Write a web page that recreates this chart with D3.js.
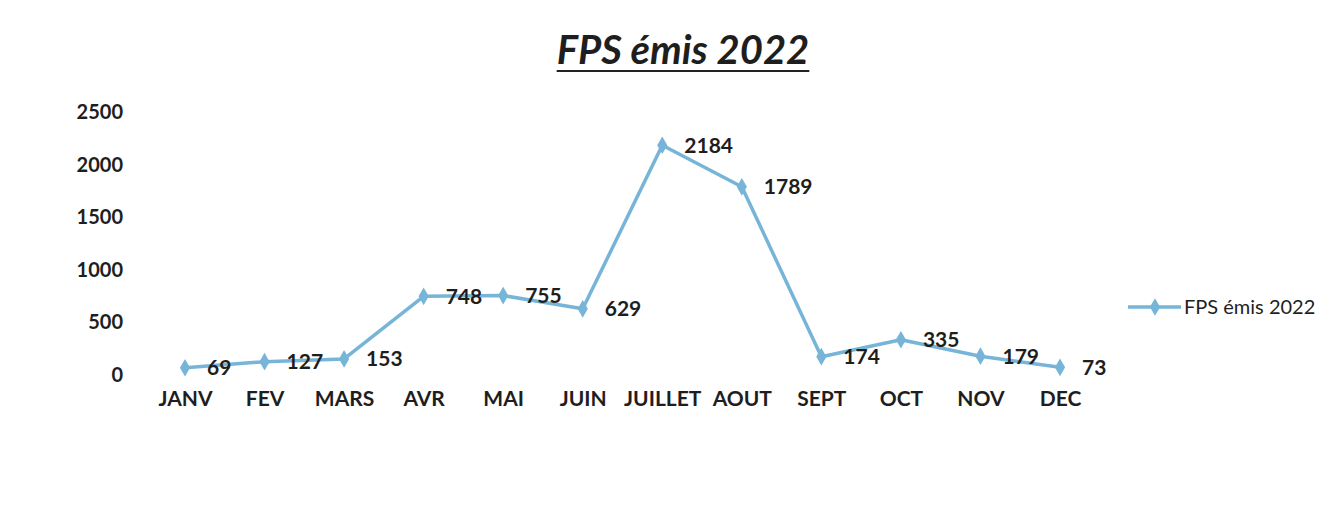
<!DOCTYPE html>
<html>
<head>
<meta charset="utf-8">
<script src="https://cdn.jsdelivr.net/npm/d3@7"></script>
<style>
	body { margin: 0; background: #fff; }
	#app { width: 1339px; height: 510px; }
	text { font-family: Lato, "Open Sans", sans-serif; fill: #1e1e1e; }
</style>
</head>
<body>
<div id="app"></div>
<script>
// data
const months = ['JANV', 'FEV', 'MARS', 'AVR', 'MAI', 'JUIN', 'JUILLET', 'AOUT', 'SEPT', 'OCT', 'NOV', 'DEC'];
const fpsValues = [69, 127, 153, 748, 755, 629, 2184, 1789, 174, 335, 179, 73];
const yTicks = [0, 500, 1000, 1500, 2000, 2500];
const seriesName = 'FPS émis 2022';

const width = 1339,
	height = 510;

const LINE_COLOR = '#76b4d8';

const svg = d3.select('#app').append('svg')
	.attr('width', width)
	.attr('height', height);

// x: point scale so first/last months sit inside the plot
const x = d3.scalePoint()
	.domain(months)
	.range([185, 1060]);

const y = d3.scaleLinear()
	.domain([0, 2500])
	.range([375, 112]);

// title
const title = svg.append('text')
	.attr('x', 683)
	.attr('y', 64)
	.attr('text-anchor', 'middle')
	.style('font-size', '40px')
	.style('font-weight', 'bold')
	.style('font-style', 'italic')
	.text(seriesName);
const tb = title.node().getBBox();
svg.append('line')
	.attr('x1', tb.x).attr('x2', tb.x + tb.width)
	.attr('y1', 71).attr('y2', 71)
	.attr('stroke', '#222')
	.attr('stroke-width', 2);

// y axis labels only, no line
const yAxis = svg.append('g')
	.attr('transform', 'translate(123,0)')
	.call(d3.axisLeft(y).tickValues(yTicks).tickFormat(d3.format('d')).tickSize(0).tickPadding(0));
yAxis.select('.domain').remove();
yAxis.selectAll('text')
	.style('font-size', '20px')
	.style('font-weight', 'bold')
	.style('font-family', 'Lato, sans-serif');

// x axis labels
const xAxis = svg.append('g')
	.attr('transform', 'translate(0,391)')
	.call(d3.axisBottom(x).tickSize(0).tickPadding(0));
xAxis.select('.domain').remove();
xAxis.selectAll('text')
	.style('font-size', '21px')
	.style('font-weight', 'bold')
	.style('font-family', 'Lato, sans-serif');

// line
const line = d3.line()
	.x((d, i) => x(months[i]))
	.y(d => y(d));

svg.append('path')
	.datum(fpsValues)
	.attr('d', line)
	.attr('fill', 'none')
	.attr('stroke', LINE_COLOR)
	.attr('stroke-width', 3.5)
	.attr('stroke-linejoin', 'round');

const diamond = d3.symbol().type(d3.symbolDiamond).size(90);

svg.selectAll('.pt')
	.data(fpsValues)
	.enter().append('path')
		.attr('class', 'pt')
		.attr('d', diamond)
		.attr('transform', (d, i) => `translate(${x(months[i])},${y(d)})`)
		.attr('fill', LINE_COLOR);

// data labels to the right of each point
svg.selectAll('.lbl')
	.data(fpsValues)
	.enter().append('text')
		.attr('class', 'lbl')
		.attr('x', (d, i) => x(months[i]) + 22)
		.attr('y', d => y(d))
		.attr('dy', '0.35em')
		.style('font-size', '21px')
		.style('font-weight', 'bold')
		.text(d => d);

// legend
const legend = svg.append('g').attr('transform', 'translate(1128,307)');
legend.append('line')
	.attr('x1', 0).attr('x2', 53)
	.attr('stroke', LINE_COLOR)
	.attr('stroke-width', 3.5);
legend.append('path')
	.attr('d', diamond)
	.attr('transform', 'translate(27,0)')
	.attr('fill', LINE_COLOR);
legend.append('text')
	.attr('x', 56)
	.attr('dy', '0.35em')
	.style('font-size', '20px')
	.text(seriesName);
</script>
</body>
</html>
